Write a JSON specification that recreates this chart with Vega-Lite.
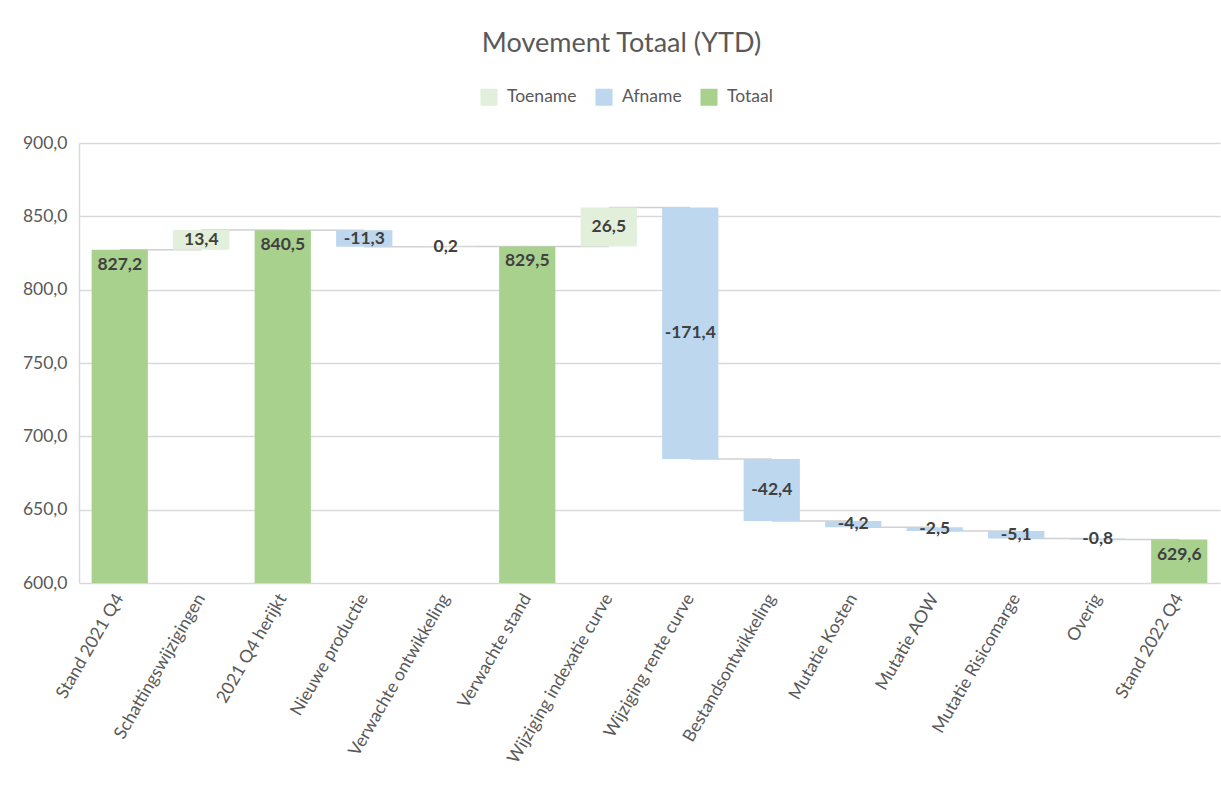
{
  "$schema": "https://vega.github.io/schema/vega-lite/v6.json",
  "width": 1141,
  "height": 440,
  "autosize": {"type": "none"},
  "padding": {"left": 79, "top": 143, "right": 1, "bottom": 204},
  "background": "white",
  "title": {
    "text": "Movement Totaal (YTD)",
    "font": "Lato",
    "fontSize": 27,
    "fontWeight": "normal",
    "color": "#595959",
    "anchor": "middle",
    "frame": "group",
    "dx": -28,
    "offset": 30
  },
  "data": {
    "values": [
      {"cat": "Stand 2021 Q4", "type": "Totaal", "start": 0, "end": 827.2, "label": "827,2", "next": "Schattingswijzigingen"},
      {"cat": "Schattingswijzigingen", "type": "Toename", "start": 827.2, "end": 840.6, "label": "13,4", "next": "2021 Q4 herijkt"},
      {"cat": "2021 Q4 herijkt", "type": "Totaal", "start": 0, "end": 840.5, "label": "840,5", "next": "Nieuwe productie"},
      {"cat": "Nieuwe productie", "type": "Afname", "start": 840.5, "end": 829.2, "label": "-11,3", "next": "Verwachte ontwikkeling"},
      {"cat": "Verwachte ontwikkeling", "type": "Toename", "start": 829.2, "end": 829.4, "label": "0,2", "next": "Verwachte stand"},
      {"cat": "Verwachte stand", "type": "Totaal", "start": 0, "end": 829.5, "label": "829,5", "next": "Wijziging indexatie curve"},
      {"cat": "Wijziging indexatie curve", "type": "Toename", "start": 829.5, "end": 856.0, "label": "26,5", "next": "Wijziging rente curve"},
      {"cat": "Wijziging rente curve", "type": "Afname", "start": 856.0, "end": 684.6, "label": "-171,4", "next": "Bestandsontwikkeling"},
      {"cat": "Bestandsontwikkeling", "type": "Afname", "start": 684.6, "end": 642.2, "label": "-42,4", "next": "Mutatie Kosten"},
      {"cat": "Mutatie Kosten", "type": "Afname", "start": 642.2, "end": 638.0, "label": "-4,2", "next": "Mutatie AOW"},
      {"cat": "Mutatie AOW", "type": "Afname", "start": 638.0, "end": 635.5, "label": "-2,5", "next": "Mutatie Risicomarge"},
      {"cat": "Mutatie Risicomarge", "type": "Afname", "start": 635.5, "end": 630.4, "label": "-5,1", "next": "Overig"},
      {"cat": "Overig", "type": "Afname", "start": 630.4, "end": 629.6, "label": "-0,8", "next": "Stand 2022 Q4"},
      {"cat": "Stand 2022 Q4", "type": "Totaal", "start": 0, "end": 629.6, "label": "629,6", "next": null}
    ]
  },
  "encoding": {
    "x": {
      "field": "cat",
      "type": "nominal",
      "sort": null,
      "scale": {"paddingInner": 0.31, "paddingOuter": 0.155},
      "axis": {
        "title": null,
        "labelAngle": -60,
        "labelFont": "Lato",
        "labelFontSize": 17.5,
        "labelColor": "#595959",
        "labelPadding": 12,
        "labelLimit": 0,
        "ticks": false,
        "domain": false,
        "grid": false
      }
    }
  },
  "layer": [
    {
      "transform": [{"filter": "datum.next != null"}],
      "mark": {"type": "rule", "color": "#d0d0d0", "strokeWidth": 1.5},
      "encoding": {
        "x2": {"field": "next"},
        "y": {"field": "end", "type": "quantitative"}
      }
    },
    {
      "mark": {"type": "bar", "clip": true},
      "encoding": {
        "y": {
          "field": "start",
          "type": "quantitative",
          "scale": {"domain": [600, 900], "zero": false, "nice": false},
          "axis": {
            "title": null,
            "values": [600, 650, 700, 750, 800, 850, 900],
            "labelExpr": "replace(format(datum.value, '.1f'), '.', ',')",
            "labelFont": "Lato",
            "labelFontSize": 17.5,
            "labelColor": "#595959",
            "labelPadding": 12,
            "ticks": false,
            "domain": true,
            "domainColor": "#d9d9d9",
            "domainWidth": 1.5,
            "grid": true,
            "gridColor": "#d9d9d9",
            "gridWidth": 1.5
          }
        },
        "y2": {"field": "end"},
        "color": {
          "field": "type",
          "type": "nominal",
          "scale": {"domain": ["Toename", "Afname", "Totaal"], "range": ["#E2EFDA", "#BDD7EE", "#A9D18E"]},
          "legend": {
            "title": null,
            "orient": "none",
            "direction": "horizontal",
            "legendX": 401,
            "legendY": -55,
            "symbolType": "square",
            "symbolSize": 290,
            "symbolStrokeWidth": 0,
            "labelFont": "Lato",
            "labelFontSize": 17.5,
            "labelColor": "#595959",
            "columnPadding": 18,
            "labelOffset": 9
          }
        }
      }
    },
    {
      "transform": [
        {"filter": "datum.type != 'Totaal'"},
        {"calculate": "(datum.start + datum.end) / 2", "as": "mid"}
      ],
      "mark": {"type": "text", "font": "Lato", "fontSize": 17.5, "fontWeight": "bold", "color": "#404040", "baseline": "middle"},
      "encoding": {
        "y": {"field": "mid", "type": "quantitative"},
        "text": {"field": "label"}
      }
    },
    {
      "transform": [{"filter": "datum.type == 'Totaal'"}],
      "mark": {"type": "text", "font": "Lato", "fontSize": 17.5, "fontWeight": "bold", "color": "#404040", "baseline": "middle", "dy": 15},
      "encoding": {
        "y": {"field": "end", "type": "quantitative"},
        "text": {"field": "label"}
      }
    }
  ],
  "config": {
    "view": {"stroke": null}
  }
}
